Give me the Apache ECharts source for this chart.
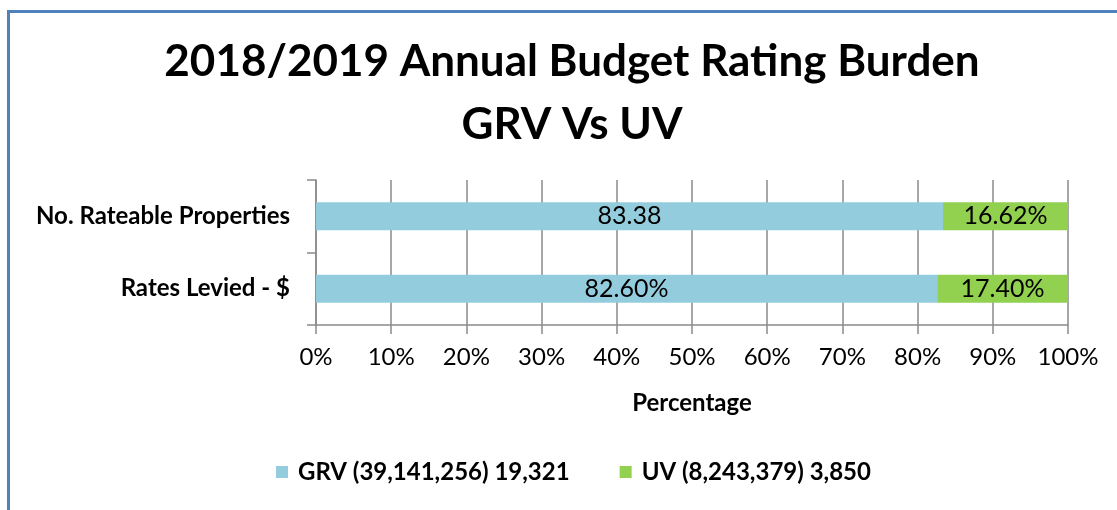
<!DOCTYPE html>
<html>
<head>
<meta charset="utf-8">
<script src="https://cdn.jsdelivr.net/npm/echarts@6/dist/echarts.min.js"></script>
<style>
  html, body { margin: 0; padding: 0; background: #fff; }
  #chart { width: 1117px; height: 510px; }
</style>
</head>
<body>
<div id="chart"></div>
<script>
// chart data
const categories = ['No. Rateable Properties', 'Rates Levied - $'];
const grvValues = [83.38, 82.60];
const uvValues = [16.62, 17.40];
const grvLabels = ['83.38', '82.60%'];
const uvLabels = ['16.62%', '17.40%'];
const seriesNames = ['GRV (39,141,256) 19,321', 'UV (8,243,379) 3,850'];
const xTicks = [0, 10, 20, 30, 40, 50, 60, 70, 80, 90, 100];

const font = 'Lato';
const gridColor = '#8a8a8a';

const chart = echarts.init(document.getElementById('chart'));

chart.setOption({
  animation: false,
  textStyle: { fontFamily: font },
  graphic: [{
    type: 'rect',
    shape: { x: 8.5, y: 11.5, width: 1200, height: 600 },
    style: { fill: 'none', stroke: '#4f81bd', lineWidth: 3 },
    silent: true
  }],
  title: {
    text: '2018/2019 Annual Budget Rating Burden\nGRV Vs UV',
    left: 567,
    textAlign: 'center',
    top: 25,
    textStyle: { fontFamily: font, fontSize: 44, fontWeight: 'bold', color: '#000', lineHeight: 63 }
  },
  legend: {
    left: 271,
    top: 455,
    icon: 'rect',
    itemWidth: 12,
    itemHeight: 12,
    itemGap: 50,
    textStyle: { fontFamily: font, fontSize: 24, fontWeight: 'bold', color: '#000', padding: [0, 0, 0, 5] },
    data: seriesNames
  },
  grid: { left: 316, right: 49, top: 180, bottom: 185 },
  xAxis: {
    type: 'value',
    min: xTicks[0],
    max: xTicks[xTicks.length - 1],
    interval: 10,
    name: 'Percentage',
    nameLocation: 'middle',
    nameGap: 66,
    nameTextStyle: { fontFamily: font, fontSize: 24, fontWeight: 'bold', color: '#000' },
    axisLine: { show: true, lineStyle: { color: gridColor, width: 1.5 } },
    axisTick: { show: true, length: 9, lineStyle: { color: gridColor, width: 1.5 } },
    splitLine: { show: true, lineStyle: { color: gridColor, width: 1.5 } },
    axisLabel: { formatter: '{value}%', margin: 20, fontFamily: font, fontSize: 24, color: '#000' }
  },
  yAxis: {
    type: 'category',
    inverse: true,
    data: categories,
    axisLine: { show: true, lineStyle: { color: gridColor, width: 1.5 } },
    axisTick: { show: true, length: 9, lineStyle: { color: gridColor, width: 1.5 } },
    axisLabel: { margin: 26, fontFamily: font, fontSize: 24, fontWeight: 'bold', color: '#000' }
  },
  series: [
    {
      name: seriesNames[0],
      type: 'bar',
      stack: 'total',
      barWidth: 28,
      itemStyle: { color: '#93cddd' },
      label: {
        show: true,
        position: 'inside',
        fontFamily: font,
        fontSize: 25,
        color: '#000',
        formatter: p => grvLabels[p.dataIndex]
      },
      data: grvValues
    },
    {
      name: seriesNames[1],
      type: 'bar',
      stack: 'total',
      barWidth: 28,
      itemStyle: { color: '#92d050' },
      label: {
        show: true,
        position: 'inside',
        fontFamily: font,
        fontSize: 25,
        color: '#000',
        formatter: p => uvLabels[p.dataIndex]
      },
      data: uvValues
    }
  ]
});
</script>
</body>
</html>
